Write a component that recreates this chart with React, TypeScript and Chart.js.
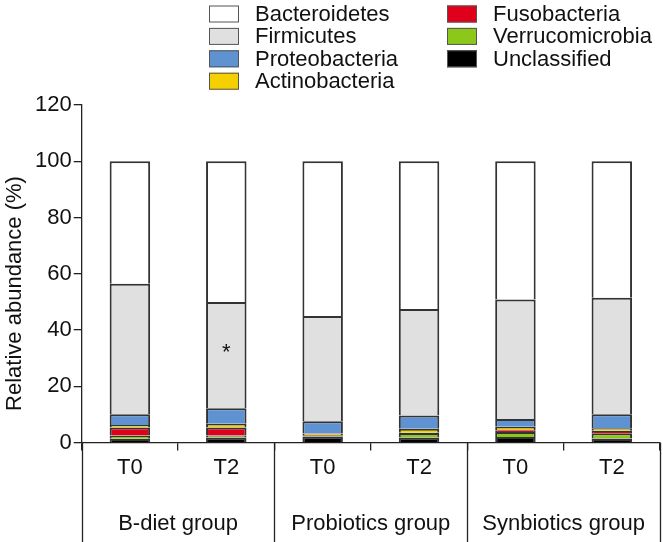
import React, { useEffect, useRef } from "react";
import { Chart, registerables } from "chart.js";

Chart.register(...registerables);

const categories = ["T0", "T2", "T0", "T2", "T0", "T2"];
const groups = ["B-diet group", "Probiotics group", "Synbiotics group"];
const yTitle = "Relative abundance (%)";

const unclassified = [1.4, 1.8, 2.2, 1.8, 2.0, 1.5];
const verrucomicrobia = [1.1, 0.7, 0.2, 1.6, 1.8, 1.8];
const fusobacteria = [2.9, 2.9, 0.3, 0.1, 0.6, 0.9];
const actinobacteria = [0.9, 1.3, 0.5, 1.4, 1.2, 0.9];
const proteobacteria = [3.8, 5.5, 4.4, 4.7, 2.8, 5.0];
const firmicutes = [46.4, 37.8, 37.4, 37.9, 42.5, 41.4];
const bacteroidetes = [43.5, 50.0, 55.0, 52.5, 49.1, 48.5];

const significance = [{ index: 1, value: 32, text: "*" }];

const FONT = "'Liberation Sans', Arial, Helvetica, sans-serif";
const FS = 22;

const series = [
  { label: "Unclassified", data: unclassified, color: "#000000" },
  { label: "Verrucomicrobia", data: verrucomicrobia, color: "#8cc81a" },
  { label: "Fusobacteria", data: fusobacteria, color: "#e0001b" },
  { label: "Actinobacteria", data: actinobacteria, color: "#f5d000" },
  { label: "Proteobacteria", data: proteobacteria, color: "#5f92d0" },
  { label: "Firmicutes", data: firmicutes, color: "#e0e0e0" },
  { label: "Bacteroidetes", data: bacteroidetes, color: "#ffffff" },
];

const legendCol1 = ["Bacteroidetes", "Firmicutes", "Proteobacteria", "Actinobacteria"];
const legendCol2 = ["Fusobacteria", "Verrucomicrobia", "Unclassified"];

const extrasPlugin = {
  id: "extras",
  afterDraw(chart: any) {
    const ctx = chart.ctx;
    const xs = chart.scales.x;
    const ys = chart.scales.y;
    const area = chart.chartArea;
    ctx.save();
    ctx.strokeStyle = "#222";
    ctx.lineWidth = 1.3;
    const step = xs.getPixelForValue(1) - xs.getPixelForValue(0);
    const bounds: number[] = [];
    for (let g = 0; g <= groups.length; g++) {
      const x = xs.getPixelForValue(g * 2) - step / 2;
      bounds.push(x);
      ctx.beginPath();
      ctx.moveTo(Math.round(x) + 0.5, area.bottom);
      ctx.lineTo(Math.round(x) + 0.5, chart.height);
      ctx.stroke();
    }
    ctx.fillStyle = "#111";
    ctx.font = `${FS}px ${FONT}`;
    ctx.textAlign = "center";
    ctx.textBaseline = "middle";
    groups.forEach((g, i) => {
      ctx.fillText(g, (bounds[i] + bounds[i + 1]) / 2, area.bottom + 81);
    });
    significance.forEach((s) => {
      ctx.fillText(s.text, xs.getPixelForValue(s.index), ys.getPixelForValue(s.value));
    });
    // y title
    ctx.save();
    ctx.translate(15, ys.getPixelForValue(53));
    ctx.rotate(-Math.PI / 2);
    ctx.textAlign = "center";
    ctx.textBaseline = "middle";
    ctx.fillText(yTitle, 0, 0);
    ctx.restore();
    const drawCol = (names: string[], bx: number) => {
      names.forEach((n, i) => {
        const sr = series.find((s) => s.label === n)!;
        const cy = 14 + i * 22.4;
        ctx.fillStyle = sr.color;
        ctx.fillRect(bx, cy - 8.5, 30, 17);
        ctx.strokeStyle = "#555";
        ctx.lineWidth = 1;
        ctx.strokeRect(bx + 0.5, cy - 8.5 + 0.5, 29, 16);
        ctx.fillStyle = "#111";
        ctx.textAlign = "left";
        ctx.textBaseline = "middle";
        ctx.font = `${FS}px ${FONT}`;
        ctx.fillText(n, bx + 46, cy + 1);
      });
    };
    drawCol(legendCol1, 209);
    drawCol(legendCol2, 447);
    ctx.restore();
  },
};

export default function App() {
  const ref = useRef<HTMLCanvasElement>(null);
  useEffect(() => {
    if (!ref.current) return;
    const chart = new Chart(ref.current, {
      type: "bar",
      data: {
        labels: categories,
        datasets: series.map((s) => ({
          label: s.label,
          data: s.data,
          backgroundColor: s.color,
          borderColor: "#333",
          borderWidth: 2,
          categoryPercentage: 1,
          barPercentage: 0.42,
        })),
      },
      options: {
        animation: false,
        responsive: false,
        maintainAspectRatio: false,
        layout: { padding: { top: 105, right: 3, bottom: 57, left: 33 } },
        plugins: {
          legend: { display: false },
          tooltip: { enabled: false },
        },
        scales: {
          x: {
            stacked: true,
            grid: { drawOnChartArea: false, tickLength: 8, color: "#222", lineWidth: 1.3, offset: true },
            border: { display: true, color: "#222", width: 1.3 },
            ticks: { color: "#111", font: { size: FS, family: FONT }, padding: 4 },
          },
          y: {
            stacked: true,
            min: 0,
            max: 120,
            ticks: { stepSize: 20, color: "#111", font: { size: FS, family: FONT }, padding: 2 },
            grid: { drawOnChartArea: false, tickLength: 8, color: "#222", lineWidth: 1.3 },
            border: { display: true, color: "#222", width: 1.3 },
            title: { display: false },
          },
        },
      },
      plugins: [extrasPlugin],
    });
    return () => chart.destroy();
  }, []);
  return (
    <div style={{ position: "fixed", left: 0, top: 0, width: 663, height: 542, background: "#fff" }}>
      <canvas ref={ref} width={663} height={542} style={{ display: "block" }} />
    </div>
  );
}
